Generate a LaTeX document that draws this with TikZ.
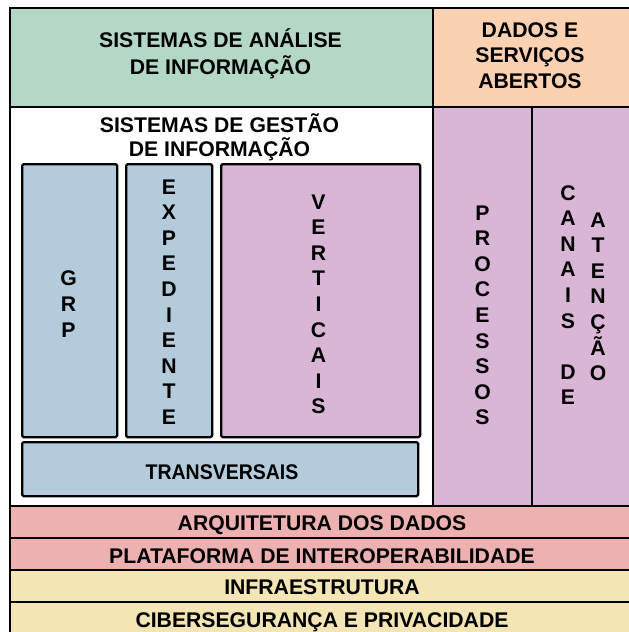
\documentclass[tikz,border=0pt]{standalone}
\usepackage{fontspec}
\setmainfont{Liberation Sans}
\definecolor{cgreen}{RGB}{179,216,198}
\definecolor{corange}{RGB}{252,209,178}
\definecolor{cpurple}{RGB}{218,182,214}
\definecolor{cblue}{RGB}{180,203,219}
\definecolor{cpink}{RGB}{237,177,177}
\definecolor{cyellow}{RGB}{243,229,180}
\tikzset{
  layer/.style={draw=black, line width=2.3pt, inner sep=0pt, anchor=north west},
  inbox/.style={draw=black, line width=2.3pt, inner sep=0pt, anchor=north west, rounded corners=1.5pt},
  lbl/.style={font=\fontsize{21.2}{25.6}\selectfont\bfseries, inner sep=0pt, anchor=base, align=center, text=black},
}
\begin{document}
\begin{tikzpicture}[x=1pt,y=-1pt]
\useasboundingbox (0,0) rectangle (629,632);
\clip (0,0) rectangle (629,632);
\fill[white] (0,0) rectangle (629,632);
% top row
\node[layer, fill=cgreen, minimum width=423pt, minimum height=99pt] (ana) at (9,7) {};
\node[layer, fill=corange, minimum width=199pt, minimum height=99pt] (dad) at (432,7) {};
% middle
\node[layer, fill=white, minimum width=423pt, minimum height=399pt] (gest) at (9,106) {};
\node[layer, fill=cpurple, minimum width=99pt, minimum height=399pt] (proc) at (432,106) {};
\node[layer, fill=cpurple, minimum width=100pt, minimum height=399pt] (can) at (531,106) {};
% bottom layers
\node[layer, fill=cpink, minimum width=622pt, minimum height=32pt] (arq) at (9,505) {};
\node[layer, fill=cpink, minimum width=622pt, minimum height=32pt] (plat) at (9,537) {};
\node[layer, fill=cyellow, minimum width=622pt, minimum height=32pt] (infra) at (9,569) {};
\node[layer, fill=cyellow, minimum width=622pt, minimum height=34pt] (ciber) at (9,601) {};
% inner boxes
\node[inbox, fill=cblue, minimum width=95pt, minimum height=273pt] (grp) at (21,163) {};
\node[inbox, fill=cblue, minimum width=86pt, minimum height=273pt] (exp) at (125,163) {};
\node[inbox, fill=cpurple, minimum width=199pt, minimum height=273pt] (vert) at (220,163) {};
\node[inbox, fill=cblue, minimum width=396pt, minimum height=54pt] (trans) at (21,441) {};
% texts (base anchor = baseline of the last line)
\node[lbl, font=\fontsize{21.2}{26.3}\selectfont\bfseries] (anaT) at (220.5,74) {SISTEMAS DE ANÁLISE\\DE INFORMAÇÃO};
\node[lbl] (dadT) at (530,88.2) {DADOS E\\SERVIÇOS\\ABERTOS};
\node[lbl, font=\fontsize{21.2}{24}\selectfont\bfseries] (gestT) at (219.5,156.7) {SISTEMAS DE GESTÃO\\DE INFORMAÇÃO};
\node[lbl, font=\fontsize{21.2}{26}\selectfont\bfseries] (grpT) at (68.5,337) {G\\R\\P};
\node[lbl] (expT) at (169,424.4) {E\\X\\P\\E\\D\\I\\E\\N\\T\\E};
\node[lbl] (vertT) at (318.5,413.8) {V\\E\\R\\T\\I\\C\\A\\I\\S};
\node[lbl] (transT) at (222,479) {\scalebox{0.92}[1]{TRANSVERSAIS}};
\node[lbl] (procT) at (482.5,424.8) {P\\R\\O\\C\\E\\S\\S\\O\\S};
\node[lbl] (canT) at (568,404.8) {C\\A\\N\\A\\I\\S\\~\\D\\E};
\node[lbl] (atenT) at (598,380.6) {A\\T\\E\\N\\Ç\\Ã\\O};
\node[lbl] (arqT) at (322,530) {ARQUITETURA DOS DADOS};
\node[lbl] (platT) at (322,563) {PLATAFORMA DE INTEROPERABILIDADE};
\node[lbl] (infraT) at (322,594.5) {INFRAESTRUTURA};
\node[lbl] (ciberT) at (322,627) {CIBERSEGURANÇA E PRIVACIDADE};
\end{tikzpicture}
\end{document}
